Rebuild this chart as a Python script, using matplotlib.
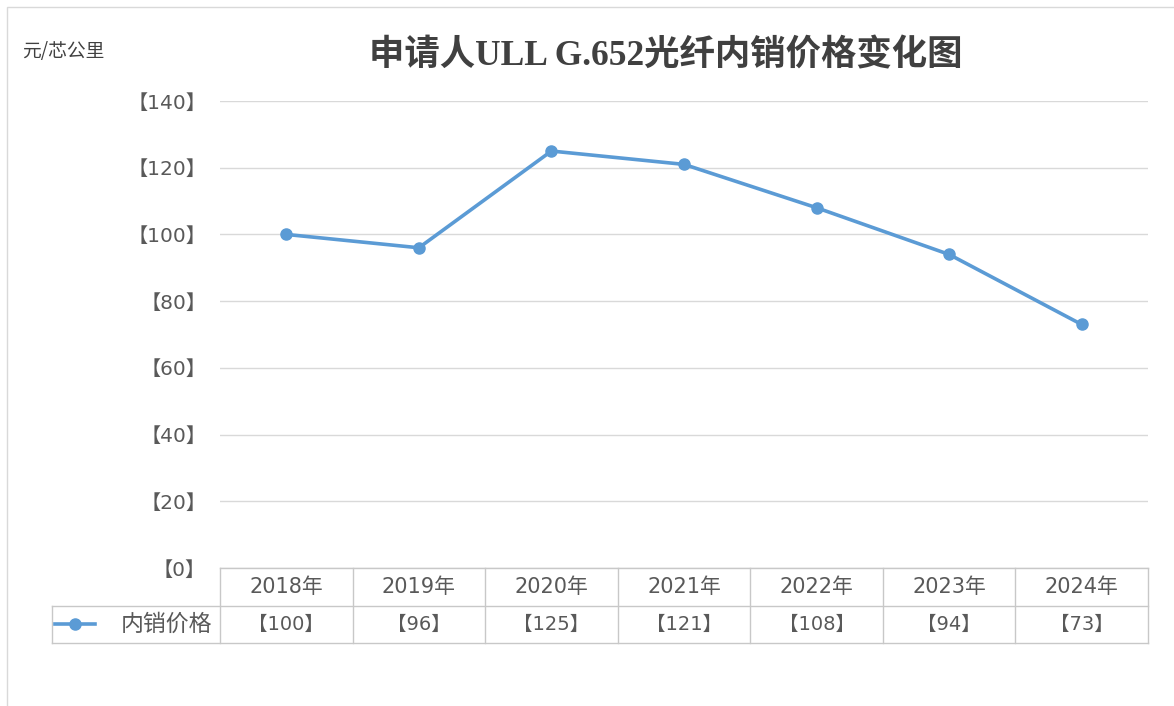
import matplotlib.pyplot as plt
from matplotlib.patches import Rectangle
from matplotlib.lines import Line2D
import matplotlib.transforms as mtrans

plt.rcParams['font.family'] = ['DejaVu Sans', 'Noto Sans CJK SC']

# data
years = ['2018年', '2019年', '2020年', '2021年', '2022年', '2023年', '2024年']
prices = [100, 96, 125, 121, 108, 94, 73]
yticks = [0, 20, 40, 60, 80, 100, 120, 140]
series_name = '内销价格'
title = '申请人ULL G.652光纤内销价格变化图'
unit = '元/芯公里'

W, H = 1174, 706
fig = plt.figure(figsize=(W / 100, H / 100), dpi=100)

# left / top frame of the chart area
fig.patches.append(Rectangle((7 / W, -0.05), 1.1, 1 - 7 / H + 0.05, transform=fig.transFigure,
                             fill=False, edgecolor='#D9D9D9', linewidth=1))

# plot area in pixels: x 220..1148, y 101..568
left, right, top, bottom = 220, 1148, 101, 568
ax = fig.add_axes([left / W, 1 - bottom / H, (right - left) / W, (bottom - top) / H])

line_color = '#5B9BD5'
txt_color = '#595959'
x = list(range(len(years)))
ax.plot(x, prices, color=line_color, linewidth=2.6, marker='o', markersize=8, zorder=3)

ax.set_xlim(-0.5, len(years) - 0.5)
ax.set_ylim(0, 140)
ax.set_yticks(yticks)
ax.set_yticklabels(['【%d】' % v for v in yticks], fontsize=14.5, color=txt_color)
ax.tick_params(axis='y', length=0, pad=10)
ax.set_xticks([])
ax.grid(axis='y', color='#D9D9D9', linewidth=1)
ax.set_axisbelow(True)
for s in ax.spines.values():
    s.set_visible(False)

# data table under the plot
tc = '#C8C8C8'
row_h = 37.5 / (bottom - top)
cat_w = (right - left) / len(years)
trans = mtrans.blended_transform_factory(ax.transData, ax.transAxes)
legend_x0 = -0.5 - (left - 52) / cat_w
# horizontal lines
ax.add_line(Line2D([-0.5, 6.5], [0, 0], transform=trans, color=tc, lw=1, clip_on=False))
ax.add_line(Line2D([legend_x0, 6.5], [-row_h, -row_h], transform=trans, color=tc, lw=1, clip_on=False))
ax.add_line(Line2D([legend_x0, 6.5], [-2 * row_h, -2 * row_h], transform=trans, color=tc, lw=1, clip_on=False))
# vertical lines
for b in [k - 0.5 for k in range(len(years) + 1)]:
    ax.add_line(Line2D([b, b], [0, -2 * row_h], transform=trans, color=tc, lw=1, clip_on=False))
ax.add_line(Line2D([legend_x0, legend_x0], [-row_h, -2 * row_h], transform=trans, color=tc, lw=1, clip_on=False))

for i, (yr, p) in enumerate(zip(years, prices)):
    ax.text(i, -row_h / 2, yr, transform=trans, ha='center', va='center', fontsize=15, color=txt_color)
    ax.text(i, -1.5 * row_h, '【%d】' % p, transform=trans, ha='center', va='center', fontsize=14, color=txt_color)

# legend key inside the table
ax.add_line(Line2D([legend_x0 + 3 / cat_w, legend_x0 + 43 / cat_w], [-1.5 * row_h] * 2, transform=trans,
                   color=line_color, lw=2.6, clip_on=False))
ax.add_line(Line2D([legend_x0 + 23 / cat_w], [-1.5 * row_h], transform=trans, color=line_color,
                   marker='o', markersize=8, clip_on=False))
ax.text(-0.5 - 8 / cat_w, -1.5 * row_h, series_name, transform=trans, ha='right', va='center',
        fontsize=16.5, color=txt_color)

fig.text(666 / W, 1 - 56 / H, title, ha='center', va='center', fontsize=25.5, fontweight='bold',
         color='#404040', family=['Liberation Serif', 'Noto Sans CJK SC'])
fig.text(22 / W, 1 - 52 / H, unit, ha='left', va='center', fontsize=13.5, color='#404040',
         family=['Noto Sans CJK SC'])

fig.savefig('out.png', dpi=100)
